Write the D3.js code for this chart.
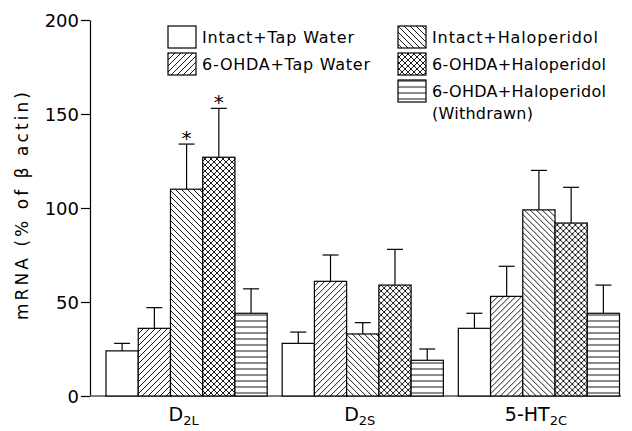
<!DOCTYPE html>
<html>
<head>
<meta charset="utf-8">
<script src="https://cdn.jsdelivr.net/npm/d3@7"></script>
<style>
  html, body { margin: 0; padding: 0; background: #fff; }
  svg { display: block; }
  text { font-family: "DejaVu Sans", sans-serif; fill: #000; }
</style>
</head>
<body>
<svg id="chart" width="632" height="431"></svg>
<script>
// ---- data ----
const groupMain = ["D", "D", "5-HT"];
const groupSub = ["2L", "2S", "2C"];
const groups = ["D2L", "D2S", "5-HT2C"];
const seriesNames = ["Intact+Tap Water", "6-OHDA+Tap Water", "Intact+Haloperidol", "6-OHDA+Haloperidol", "6-OHDA+Haloperidol (Withdrawn)"];
const intactTap = [24, 28, 36];
const ohdaTap = [36, 61, 53];
const intactHal = [110, 33, 99];
const ohdaHal = [127, 59, 92];
const ohdaHalWithdrawn = [44, 19, 44];
const errIntactTap = [4, 6, 8];
const errOhdaTap = [11, 14, 16];
const errIntactHal = [24, 6, 21];
const errOhdaHal = [26, 19, 19];
const errOhdaHalWithdrawn = [13, 6, 15];
const significant = [["D2L", 2], ["D2L", 3]];
const yTicks = [0, 50, 100, 150, 200];
const yLabel = "mRNA (% of \u03B2 actin)";

const means = [intactTap, ohdaTap, intactHal, ohdaHal, ohdaHalWithdrawn];
const errs = [errIntactTap, errOhdaTap, errIntactHal, errOhdaHal, errOhdaHalWithdrawn];
const fills = ["url(#pWhite)", "url(#pFwd)", "url(#pBack)", "url(#pCross)", "url(#pHoriz)"];

const svg = d3.select("#chart");
svg.append("rect").attr("width", 632).attr("height", 431).attr("fill", "#fff");

// ---- patterns ----
const defs = svg.append("defs");
function pattern(id, w, h, d) {
  const p = defs.append("pattern").attr("id", id).attr("patternUnits", "userSpaceOnUse")
    .attr("width", w).attr("height", h);
  p.append("rect").attr("width", w).attr("height", h).attr("fill", "#fff");
  if (d) p.append("path").attr("d", d).attr("stroke", "#000").attr("stroke-width", 0.9).attr("fill", "none");
}
pattern("pWhite", 6, 6, null);
pattern("pFwd", 6, 6, "M-1,1 L1,-1 M0,6 L6,0 M5,7 L7,5");
pattern("pBack", 6, 6, "M-1,5 L1,7 M0,0 L6,6 M5,-1 L7,1");
pattern("pCross", 6, 6, "M-1,1 L1,-1 M0,6 L6,0 M5,7 L7,5 M-1,5 L1,7 M0,0 L6,6 M5,-1 L7,1");
pattern("pHoriz", 8, 6, "M0,3 L8,3");

// ---- scales ----
const y = d3.scaleLinear().domain([0, 200]).range([396, 20]);
const x0 = d3.scaleBand().domain(groups).range([106, 619.5]).paddingInner(0.085).paddingOuter(0);
const x1 = d3.scaleBand().domain(d3.range(seriesNames.length)).range([0, x0.bandwidth()]).padding(0);

// ---- axes ----
const yAxis = d3.axisLeft(y).tickValues(yTicks).tickSize(9).tickPadding(2).tickSizeOuter(0);
const gy = svg.append("g").attr("transform", "translate(90,0)").call(yAxis);
gy.select(".domain").attr("stroke", "#000").attr("stroke-width", 1.2);
gy.selectAll(".tick line").attr("stroke", "#000").attr("stroke-width", 1.2);
gy.selectAll(".tick text").attr("font-size", 18).attr("font-family", "DejaVu Sans, sans-serif").attr("fill", "#000").attr("dy", "0.38em");

svg.append("line").attr("x1", 90).attr("x2", 621).attr("y1", y(0)).attr("y2", y(0))
  .attr("stroke", "#555").attr("stroke-width", 1.4);

// y label
svg.append("text").attr("transform", `translate(28,206) rotate(-90)`)
  .attr("text-anchor", "middle").attr("font-size", 17)
  .attr("textLength", 228).attr("lengthAdjust", "spacing")
  .text(yLabel);

// ---- bars ----
const gGroups = svg.append("g").selectAll("g").data(groups).join("g")
  .attr("transform", d => `translate(${x0(d)},0)`);

gGroups.each(function(gname, gi) {
  const g = d3.select(this);
  seriesNames.forEach((s, si) => {
    const v = means[si][gi], e = errs[si][gi];
    const bx = x1(si), bw = x1.bandwidth(), cx = bx + bw / 2;
    g.append("line").attr("x1", cx).attr("x2", cx).attr("y1", y(v)).attr("y2", y(v + e))
      .attr("stroke", "#000").attr("stroke-width", 1.2);
    g.append("line").attr("x1", cx - 8).attr("x2", cx + 8).attr("y1", y(v + e)).attr("y2", y(v + e))
      .attr("stroke", "#000").attr("stroke-width", 1.2);
    g.append("rect").attr("x", bx).attr("y", y(v)).attr("width", bw).attr("height", y(0) - y(v))
      .attr("fill", fills[si]).attr("stroke", "#000").attr("stroke-width", 1.2);
    if (significant.some(([gg, ss]) => gg === gname && ss === si)) {
      g.append("text").attr("x", cx).attr("y", y(v + e) + 1).attr("text-anchor", "middle")
        .attr("font-size", 20).text("*");
    }
  });
});

// ---- x labels ----
groups.forEach((gname, gi) => {
  const cx = x0(gname) + x0.bandwidth() / 2 - 3;
  const t = svg.append("text").attr("x", cx).attr("y", 421).attr("text-anchor", "middle").attr("font-size", 19);
  t.append("tspan").text(groupMain[gi]);
  t.append("tspan").attr("font-size", 13).attr("dy", 4).text(groupSub[gi]);
});

// ---- legend ----
const legendItems = [
  { si: 0, x: 168, y: 26, lines: ["Intact+Tap Water"], w: [152] },
  { si: 1, x: 168, y: 53, lines: ["6-OHDA+Tap Water"], w: [168] },
  { si: 2, x: 398, y: 26, lines: ["Intact+Haloperidol"], w: [166] },
  { si: 3, x: 398, y: 53, lines: ["6-OHDA+Haloperidol"], w: [174] },
  { si: 4, x: 398, y: 80, lines: ["6-OHDA+Haloperidol", "(Withdrawn)"], w: [174, 101] }
];
const lg = svg.append("g");
legendItems.forEach(it => {
  lg.append("rect").attr("x", it.x).attr("y", it.y).attr("width", 28).attr("height", 22)
    .attr("fill", fills[it.si]).attr("stroke", "#000").attr("stroke-width", 1.2);
  it.lines.forEach((ln, li) => {
    lg.append("text").attr("x", it.x + 34).attr("y", it.y + 17 + li * 22)
      .attr("font-size", 16).attr("textLength", it.w[li]).attr("lengthAdjust", "spacing").text(ln);
  });
});
</script>
</body>
</html>
